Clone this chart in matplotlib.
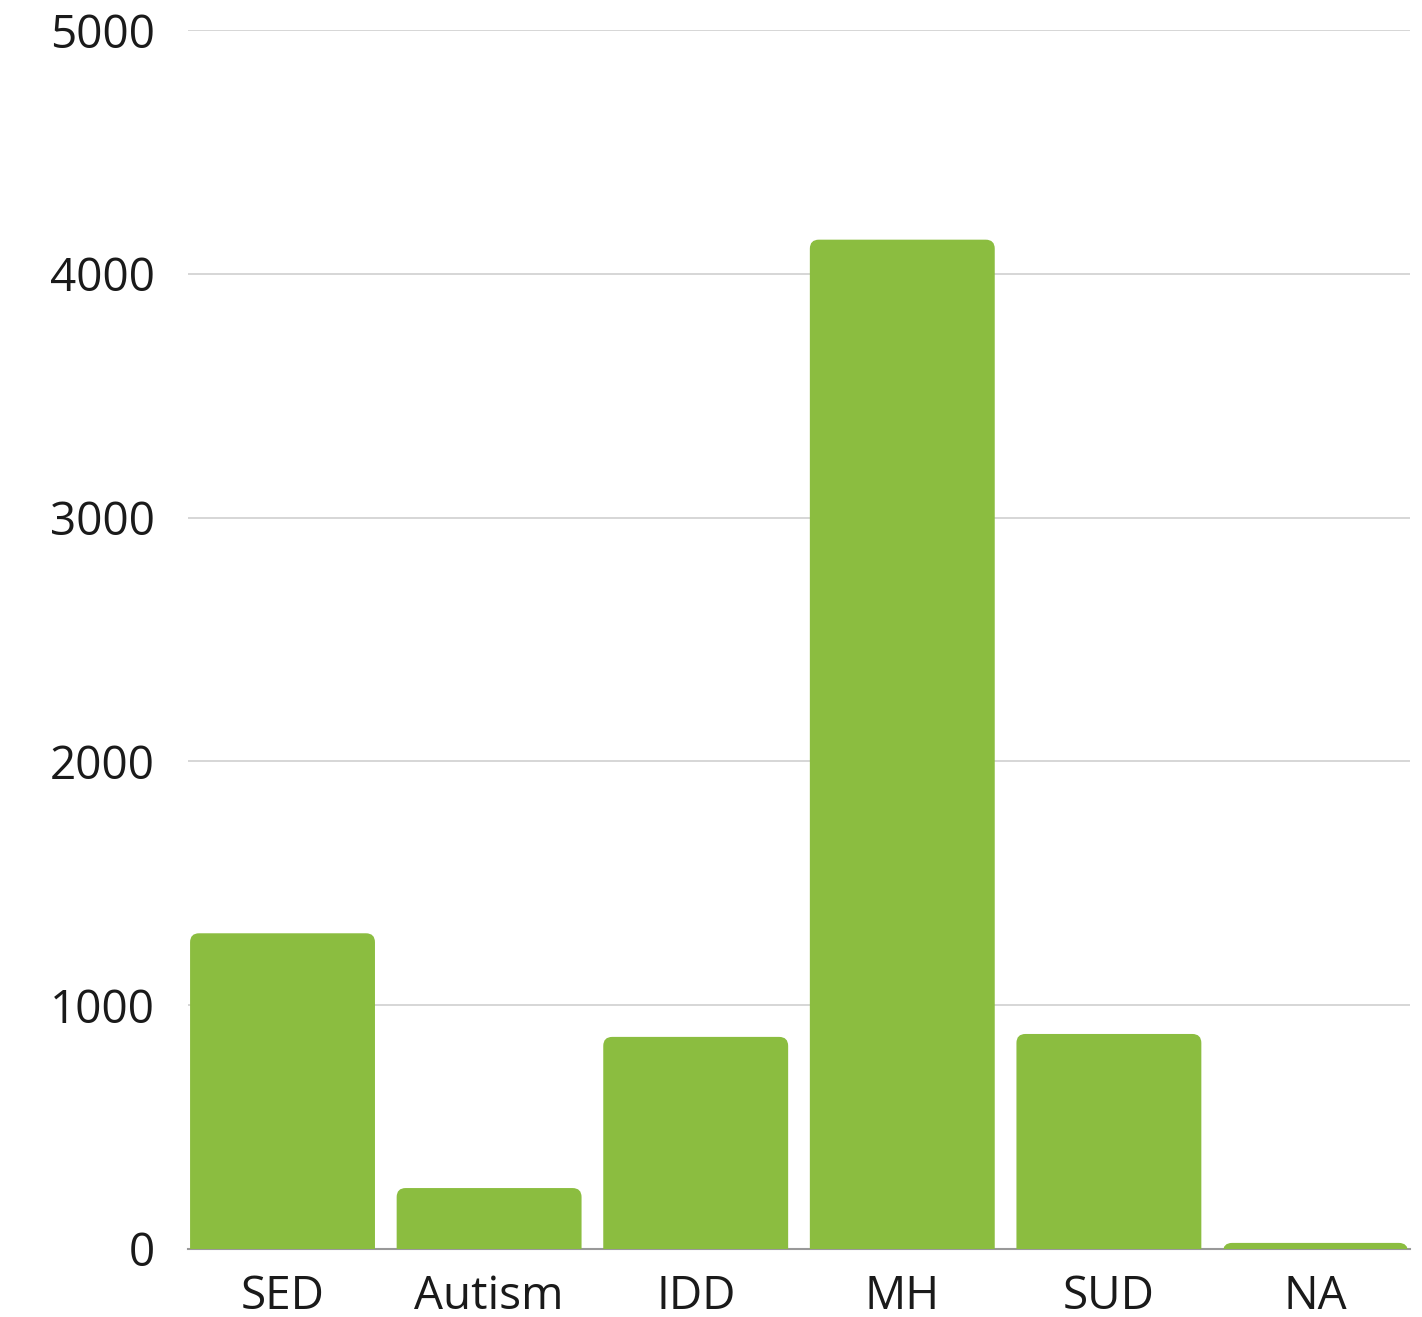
import matplotlib.pyplot as plt
from matplotlib.patches import FancyBboxPatch

categories = ["SED", "Autism", "IDD", "MH", "SUD", "NA"]
counts = [1295, 250, 870, 4140, 882, 25]
yticks = [0, 1000, 2000, 3000, 4000, 5000]

green = "#8bbd40"
plt.rcParams['font.family'] = ['Open Sans', 'DejaVu Sans']

fig = plt.figure(figsize=(14.22, 13.17), dpi=100)
ax = fig.add_axes([188 / 1422, 1 - 1249 / 1317, (1410 - 188) / 1422, (1249 - 30) / 1317])

width = 0.895
x = list(range(len(categories)))
bars = ax.bar(x, counts, width=width, color=green, alpha=0)
ax.set_xlim(-width / 2 - 0.01, len(categories) - 1 + width / 2 + 0.01)
ax.set_ylim(0, 5000)

# rounded tops: data units per pixel in x and y
fig.canvas.draw()
bb = ax.get_window_extent()
xpp = (ax.get_xlim()[1] - ax.get_xlim()[0]) / bb.width
ypp = 5000 / bb.height
r = 9 * xpp
for b in bars:
    h = b.get_height()
    p = FancyBboxPatch((b.get_x(), -12 * ypp), b.get_width(), h + 12 * ypp,
                       boxstyle=f"round,pad=0,rounding_size={r}",
                       mutation_aspect=ypp / xpp, facecolor=green,
                       edgecolor="none", zorder=3)
    ax.add_patch(p)

ax.set_yticks(yticks)
ax.set_yticklabels([str(t) for t in yticks], fontweight="medium")
ax.set_xticks(x)
ax.set_xticklabels(categories, fontweight="medium")
ax.grid(axis="y", color="#cfcfcf", linewidth=1.2, zorder=0)
ax.set_axisbelow(True)
for s in ["top", "right", "left"]:
    ax.spines[s].set_visible(False)
ax.spines["bottom"].set_color("#999999")
ax.spines["bottom"].set_linewidth(1.5)
ax.spines["bottom"].set_zorder(1)
ax.tick_params(axis="y", length=0, labelsize=33, pad=24, labelcolor="#1a1a1a")
ax.tick_params(axis="x", length=0, labelsize=33, pad=18, labelcolor="#1a1a1a")

fig.savefig("out.png", dpi=100)
